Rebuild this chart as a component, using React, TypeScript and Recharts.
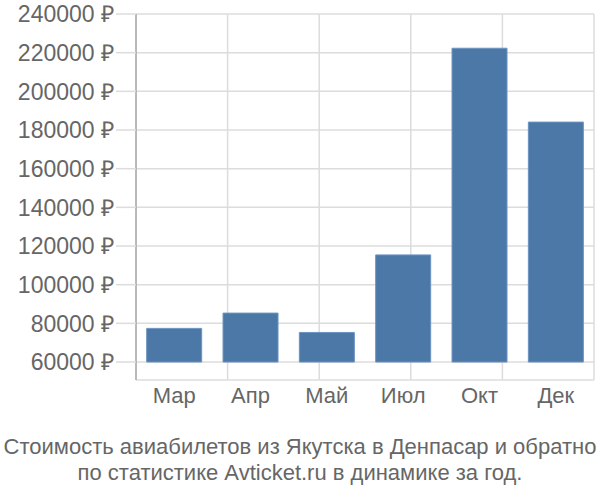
import React from 'react';
import { BarChart, Bar, XAxis, YAxis, CartesianGrid } from 'recharts';

const months = ['Мар', 'Апр', 'Май', 'Июл', 'Окт', 'Дек'];
const prices = [77400, 85300, 75300, 115400, 222300, 184100];
const yTicks = [60000, 80000, 100000, 120000, 140000, 160000, 180000, 200000, 220000, 240000];
const gridTicks = [0, 1, 2, 3, 4, 5, 6];
const baseline = 60000;

const data = months.map((m, i) => ({ name: m, range: [baseline, prices[i]] }));

const FONT = '"Liberation Sans", Arial, sans-serif';
const TEXT = '#666';

export default function App() {
  return (
    <div style={{ position: 'absolute', left: 0, top: 0, width: 600, height: 500, fontFamily: FONT }}>
      <BarChart
        width={600}
        height={430}
        data={data}
        margin={{ top: 14, right: 6, left: 0, bottom: 0 }}
        barCategoryGap="14%"
      >
        <XAxis xAxisId="grid" type="number" domain={[0, 6]} ticks={gridTicks} hide />
        <CartesianGrid xAxisId="grid" stroke="#dcdcdc" strokeWidth={1.5} />
        <XAxis
          xAxisId="cat"
          dataKey="name"
          height={50}
          axisLine={false}
          tickLine={false}
          tickSize={6}
          tickMargin={1}
          interval={0}
          tick={{ fill: TEXT, fontSize: 22, fontFamily: FONT }}
        />
        <YAxis
          width={136}
          domain={[50700, 240000]}
          ticks={yTicks}
          interval={0}
          allowDataOverflow
          tickSize={20}
          tickMargin={2}
          tickLine={{ stroke: '#dcdcdc', strokeWidth: 1.5 }}
          axisLine={{ stroke: '#aaa', strokeWidth: 1.5 }}
          tickFormatter={(v: number) => `${v} ₽`}
          tick={{ fill: TEXT, fontSize: 23, fontFamily: FONT }}
        />
        <Bar
          xAxisId="cat"
          dataKey="range"
          fill="#4c78a8"
          stroke="#6b93c2"
          strokeWidth={1}
          isAnimationActive={false}
        />
      </BarChart>
      <div style={{ width: 600, textAlign: 'center', color: TEXT, fontSize: 22, lineHeight: '26px', paddingTop: 4 }}>
        Стоимость авиабилетов из Якутска в Денпасар и обратно
        <br />
        по статистике Avticket.ru в динамике за год.
      </div>
    </div>
  );
}
